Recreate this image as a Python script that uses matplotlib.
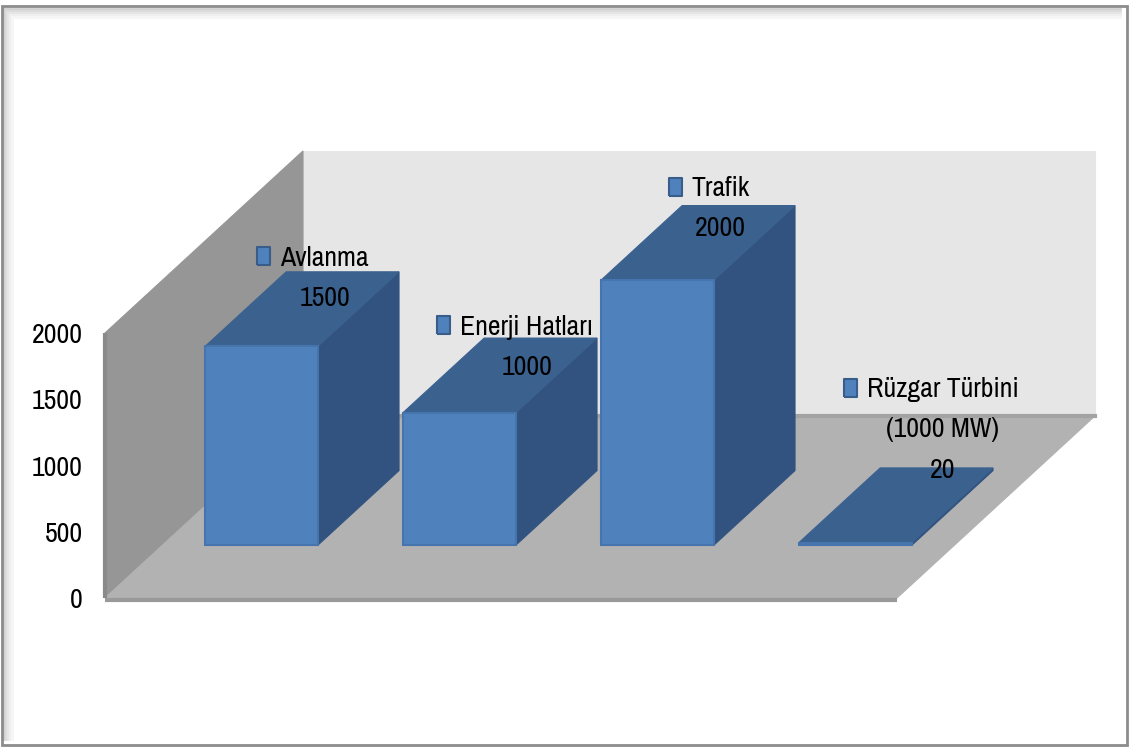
import matplotlib
matplotlib.use('Agg')
import matplotlib.pyplot as plt
from matplotlib.patches import Polygon, Rectangle

# data
categories = ['Avlanma', 'Enerji Hatları', 'Trafik', 'Rüzgar Türbini\n(1000 MW)']
values = [1500, 1000, 2000, 20]
yticks = [0, 500, 1000, 1500, 2000]

# layout of the fake 3d box (category units on x, value units on y)
DX = 1.0        # screen shift in x for full depth
DV = 1374       # screen shift in value units for full depth
Z0, Z1 = 0.29, 0.70   # bar front / back depth
W = 0.57        # bar width
YMAX = 2000
label_dx = [0.61, 0.63, 0.61, 0.73]
label_lift = [764, 743, 785, 946]
LINE = 302      # one text line in value units (~40px)
FS = 20

plt.rcParams['font.family'] = ['Archivo Narrow', 'Carlito', 'DejaVu Sans']

fig = plt.figure(figsize=(11.3, 7.47), dpi=100)
ax = fig.add_axes([0, 0, 1, 1])
ax.set_xlim(-1.0303, 4.6768)
ax.set_ylim(-1124.5, 4513.2)
ax.patch.set_visible(False)


def P(x, v, z):
    return (x + z * DX, v + z * DV)


def face(pts, color, edge=None, lw=0.8, zo=2):
    ax.add_patch(Polygon([P(*p) for p in pts], closed=True, facecolor=color,
                         edgecolor=edge if edge else color, lw=lw, zorder=zo))


x0, x1 = -0.5, len(values) - 0.5

# walls and floor
face([(x0, 0, 1), (x1, 0, 1), (x1, YMAX, 1), (x0, YMAX, 1)], '#e6e6e6')
face([(x0, 0, 0), (x0, YMAX, 0), (x0, YMAX, 1), (x0, 0, 1)], '#969696')
face([(x0, 0, 0), (x1, 0, 0), (x1, 0, 1), (x0, 0, 1)], '#b2b2b2')
ax.plot([P(x0, 0, 1)[0], P(x1, 0, 1)[0]], [P(x0, 0, 1)[1]] * 2, color='#a3a3a3', lw=3, zorder=2.5)
ax.plot([x0, x1], [-12, -12], color='#999999', lw=3, zorder=2.5, solid_capstyle='butt')
ax.plot([x0, x0], [0, YMAX], color='#8a8a8a', lw=3, zorder=2.5, solid_capstyle='butt')

# bars
for i, v in enumerate(values):
    l, r = i - W / 2, i + W / 2
    face([(r, 0, Z0), (r, 0, Z1), (r, v, Z1), (r, v, Z0)], '#325380', zo=3)
    face([(l, v, Z0), (r, v, Z0), (r, v, Z1), (l, v, Z1)], '#3b618f', zo=3)
    face([(l, 0, Z0), (r, 0, Z0), (r, v, Z0), (l, v, Z0)], '#4f81bd', edge='#4675ad', lw=1.5, zo=3)

# legend key shape: a bit taller than wide
key = [(-0.36, -0.5), (0.36, -0.5), (0.36, 0.5), (-0.36, 0.5), (-0.36, -0.5)]

# data labels
fig.canvas.draw()
rend = fig.canvas.get_renderer()
for i, (name, v) in enumerate(zip(categories, values)):
    cx, cy = P(i + label_dx[i], v + label_lift[i], 0)
    ax.text(cx, cy, str(v), ha='center', va='center', fontsize=FS, zorder=5)
    lines = name.split('\n')
    for k, ln in enumerate(reversed(lines)):
        t = ax.text(cx, cy + LINE * (k + 1), ln, ha='center', va='center', fontsize=FS, zorder=5)
    # legend key left of the first line
    bb = t.get_window_extent(rend)
    px = bb.x0 - 17
    py = (bb.y0 + bb.y1) / 2 + 2
    mx, my = ax.transData.inverted().transform((px, py))
    ax.plot(mx, my, marker=key, markersize=13, markerfacecolor='#4f81bd',
            markeredgecolor='#385d8a', markeredgewidth=1.5, zorder=5)

# value axis
for s in ax.spines.values():
    s.set_visible(False)
ax.spines['left'].set_position(('data', x0))
ax.set_xticks([])
ax.set_yticks(yticks)
ax.tick_params(axis='y', length=0, pad=16, labelsize=FS)

# outer frame with inner shadow
fig.patches.append(Rectangle((2, 2), 1125, 739, transform=None, fill=False,
                             edgecolor='#8c8c8c', lw=2, zorder=10))
for k, c in enumerate(['#d0d0d0', '#dcdcdc', '#e6e6e6', '#efefef', '#f6f6f6']):
    off = 4 + 2 * k
    fig.lines.append(plt.Line2D([off, 1120], [745 - off - 3, 745 - off - 3], transform=None, color=c, lw=2))
    fig.lines.append(plt.Line2D([off, off], [8, 745 - off - 3], transform=None, color=c, lw=2))

fig.savefig('out.png', dpi=100)
